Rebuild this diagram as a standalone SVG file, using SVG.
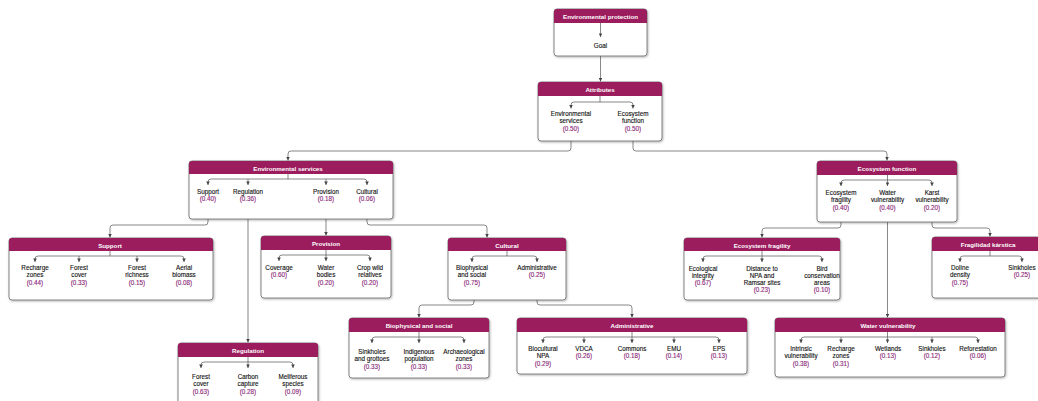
<svg xmlns="http://www.w3.org/2000/svg" width="1038" height="401" viewBox="0 0 1038 401">
<defs>
<marker id="ah" viewBox="0 0 6 6" refX="6" refY="3" markerWidth="3.6" markerHeight="3.6" markerUnits="userSpaceOnUse" orient="auto"><path d="M0,0 L6,3 L0,6 z" fill="#444"/></marker>
<filter id="sh" x="-5%" y="-5%" width="110%" height="115%"><feDropShadow dx="0.8" dy="1" stdDeviation="0.8" flood-color="#000" flood-opacity="0.3"/></filter>
</defs>
<style>
.box{fill:#fff;stroke:#666;stroke-width:0.8;filter:url(#sh)}
.hdr{fill:#9b1d5e}
.tt{font-family:"Liberation Sans",Arial,sans-serif;font-size:6.2px;font-weight:bold;fill:#fff;text-anchor:middle}
.t{font-family:"Liberation Sans",Arial,sans-serif;font-size:6.3px;fill:#111;stroke:#111;stroke-width:0.12;text-anchor:middle}
.v{font-family:"Liberation Sans",Arial,sans-serif;font-size:6.3px;fill:#8a1f78;stroke:#8a1f78;stroke-width:0.12;text-anchor:middle}
.ln{fill:none;stroke:#555;stroke-width:0.7}
.ar{fill:none;stroke:#555;stroke-width:0.7;marker-end:url(#ah)}
</style>
<rect width="1038" height="401" fill="#fff"/>

<g id="connectors">
<path class="ar" d="M600.5,56 V81.5"/>
<path class="ar" d="M571,134 V148 Q571,151 568,151 H291 Q288,151 288,154 V160.5"/>
<path class="ar" d="M633,134 V148 Q633,151 636,151 H884 Q887,151 887,154 V160.5"/>
<path class="ar" d="M208,204 V222 Q208,225 205,225 H113 Q110,225 110,228 V237.5"/>
<path class="ar" d="M248,204 V342.5"/>
<path class="ar" d="M326,204 V235.5"/>
<path class="ar" d="M367,204 V222 Q367,225 370,225 H484 Q487,225 487,228 V237.5"/>
<path class="ar" d="M474,288 V302 Q474,305 471,305 H422 Q419,305 419,308 V317.5"/>
<path class="ar" d="M537,281 V302 Q537,305 540,305 H629 Q632,305 632,308 V317.5"/>
<path class="ar" d="M841,212 V225 Q841,228 838,228 H765 Q762,228 762,231 V237.5"/>
<path class="ar" d="M887.5,212 V317.5"/>
<path class="ar" d="M932,212 V225 Q932,228 935,228 H987 Q990,228 990,231 V236.5"/>
</g>

<g id="n-goal">
<rect class="box" x="554" y="9" width="93" height="47" rx="3"/>
<path class="hdr" d="M554,23 V12 Q554,9 557,9 H644 Q647,9 647,12 V23 Z"/>
<text class="tt" x="600.5" y="18.7">Environmental protection</text>
<path class="ar" d="M600.5,23 V37"/>
<text class="t" x="600.5" y="48">Goal</text>
</g>

<g id="n-attributes">
<rect class="box" x="538" y="82" width="124" height="59" rx="3"/>
<path class="hdr" d="M538,96 V85 Q538,82 541,82 H659 Q662,82 662,85 V96 Z"/>
<text class="tt" x="600" y="91.7">Attributes</text>
<path class="ln" d="M600,96 V102 M574,102 H630"/>
<path class="ar" d="M574,102 Q571,102 571,105 V108.5"/>
<path class="ar" d="M630,102 Q633,102 633,105 V108.5"/>
<text class="t" x="571" y="116">Environmental</text>
<text class="t" x="571" y="123.3">services</text>
<text class="v" x="571" y="130.6">(0.50)</text>
<text class="t" x="633" y="116">Ecosystem</text>
<text class="t" x="633" y="123.3">function</text>
<text class="v" x="633" y="130.6">(0.50)</text>
</g>

<g id="n-envservices">
<rect class="box" x="189" y="161" width="204" height="58" rx="3"/>
<path class="hdr" d="M189,174 V164 Q189,161 192,161 H390 Q393,161 393,164 V174 Z"/>
<text class="tt" x="288" y="170.5">Environmental services</text>
<path class="ln" d="M288,174 V179 M211,179 H364"/>
<path class="ar" d="M211,179 Q208,179 208,182 V185"/>
<path class="ar" d="M364,179 Q367,179 367,182 V185"/>
<path class="ar" d="M248,179 V185"/>
<path class="ar" d="M326,179 V185"/>
<text class="t" x="208" y="194">Support</text><text class="v" x="208" y="201.3">(0.40)</text>
<text class="t" x="248" y="194">Regulation</text><text class="v" x="248" y="201.3">(0.36)</text>
<text class="t" x="326" y="194">Provision</text><text class="v" x="326" y="201.3">(0.18)</text>
<text class="t" x="367" y="194">Cultural</text><text class="v" x="367" y="201.3">(0.06)</text>
</g>

<g id="n-support">
<rect class="box" x="9" y="238" width="204" height="62" rx="3"/>
<path class="hdr" d="M9,251 V241 Q9,238 12,238 H210 Q213,238 213,241 V251 Z"/>
<text class="tt" x="110" y="247.5">Support</text>
<path class="ln" d="M110,251 V256 M38,256 H181"/>
<path class="ar" d="M38,256 Q35,256 35,259 V262"/>
<path class="ar" d="M181,256 Q184,256 184,259 V262"/>
<path class="ar" d="M79,256 V262"/>
<path class="ar" d="M137,256 V262"/>
<text class="t" x="35" y="270">Recharge</text><text class="t" x="35" y="277.3">zones</text><text class="v" x="35" y="284.6">(0.44)</text>
<text class="t" x="79" y="270">Forest</text><text class="t" x="79" y="277.3">cover</text><text class="v" x="79" y="284.6">(0.33)</text>
<text class="t" x="137" y="270">Forest</text><text class="t" x="137" y="277.3">richness</text><text class="v" x="137" y="284.6">(0.15)</text>
<text class="t" x="184" y="270">Aerial</text><text class="t" x="184" y="277.3">biomass</text><text class="v" x="184" y="284.6">(0.08)</text>
</g>

<g id="n-regulation">
<rect class="box" x="178" y="343" width="140" height="70" rx="3"/>
<path class="hdr" d="M178,357 V346 Q178,343 181,343 H315 Q318,343 318,346 V357 Z"/>
<text class="tt" x="248" y="352.5">Regulation</text>
<path class="ln" d="M204,362 H290"/>
<path class="ar" d="M248,357 V368"/>
<path class="ar" d="M204,362 Q201,362 201,365 V368"/>
<path class="ar" d="M290,362 Q293,362 293,365 V368"/>
<text class="t" x="201" y="379">Forest</text><text class="t" x="201" y="386.3">cover</text><text class="v" x="201" y="393.6">(0.63)</text>
<text class="t" x="248" y="379">Carbon</text><text class="t" x="248" y="386.3">capture</text><text class="v" x="248" y="393.6">(0.28)</text>
<text class="t" x="293" y="379">Meliferous</text><text class="t" x="293" y="386.3">species</text><text class="v" x="293" y="393.6">(0.09)</text>
</g>

<g id="n-provision">
<rect class="box" x="261" y="236" width="130" height="62" rx="3"/>
<path class="hdr" d="M261,250 V239 Q261,236 264,236 H388 Q391,236 391,239 V250 Z"/>
<text class="tt" x="326" y="245.7">Provision</text>
<path class="ln" d="M282,255 H367"/>
<path class="ar" d="M326,250 V261"/>
<path class="ar" d="M282,255 Q279,255 279,258 V261"/>
<path class="ar" d="M367,255 Q370,255 370,258 V261"/>
<text class="t" x="279" y="270">Coverage</text><text class="v" x="279" y="277.3">(0.60)</text>
<text class="t" x="326" y="270">Water</text><text class="t" x="326" y="277.3">bodies</text><text class="v" x="326" y="284.6">(0.20)</text>
<text class="t" x="370" y="270">Crop wild</text><text class="t" x="370" y="277.3">relatives</text><text class="v" x="370" y="284.6">(0.20)</text>
</g>

<g id="n-cultural">
<rect class="box" x="448" y="238" width="118" height="62" rx="3"/>
<path class="hdr" d="M448,251 V241 Q448,238 451,238 H563 Q566,238 566,241 V251 Z"/>
<text class="tt" x="507" y="247.5">Cultural</text>
<path class="ln" d="M507,251 V256 M475,256 H534"/>
<path class="ar" d="M475,256 Q472,256 472,259 V262"/>
<path class="ar" d="M534,256 Q537,256 537,259 V262"/>
<text class="t" x="472" y="270">Biophysical</text><text class="t" x="472" y="277.3">and social</text><text class="v" x="472" y="284.6">(0.75)</text>
<text class="t" x="537" y="270">Administrative</text><text class="v" x="537" y="277.3">(0.25)</text>
</g>

<g id="n-biosocial">
<rect class="box" x="349" y="318" width="140" height="60" rx="3"/>
<path class="hdr" d="M349,332 V321 Q349,318 352,318 H486 Q489,318 489,321 V332 Z"/>
<text class="tt" x="419" y="327.5">Biophysical and social</text>
<path class="ln" d="M375,337 H461"/>
<path class="ar" d="M419,332 V343"/>
<path class="ar" d="M375,337 Q372,337 372,340 V343"/>
<path class="ar" d="M461,337 Q464,337 464,340 V343"/>
<text class="t" x="372" y="354">Sinkholes</text><text class="t" x="372" y="361.3">and grottoes</text><text class="v" x="372" y="368.6">(0.33)</text>
<text class="t" x="419" y="354">Indigenous</text><text class="t" x="419" y="361.3">population</text><text class="v" x="419" y="368.6">(0.33)</text>
<text class="t" x="464" y="354">Archaeological</text><text class="t" x="464" y="361.3">zones</text><text class="v" x="464" y="368.6">(0.33)</text>
</g>

<g id="n-administrative">
<rect class="box" x="517" y="318" width="230" height="56" rx="3"/>
<path class="hdr" d="M517,332 V321 Q517,318 520,318 H744 Q747,318 747,321 V332 Z"/>
<text class="tt" x="632" y="327.5">Administrative</text>
<path class="ln" d="M546,337 H716"/>
<path class="ar" d="M632,332 V343"/>
<path class="ar" d="M546,337 Q543,337 543,340 V343"/>
<path class="ar" d="M716,337 Q719,337 719,340 V343"/>
<path class="ar" d="M584,337 V343"/>
<path class="ar" d="M674,337 V343"/>
<text class="t" x="543" y="351">Biocultural</text><text class="t" x="543" y="358.3">NPA</text><text class="v" x="543" y="365.6">(0.29)</text>
<text class="t" x="584" y="351">VDCA</text><text class="v" x="584" y="358.3">(0.26)</text>
<text class="t" x="632" y="351">Commons</text><text class="v" x="632" y="358.3">(0.18)</text>
<text class="t" x="674" y="351">EMU</text><text class="v" x="674" y="358.3">(0.14)</text>
<text class="t" x="719" y="351">EPS</text><text class="v" x="719" y="358.3">(0.13)</text>
</g>

<g id="n-ecofunction">
<rect class="box" x="817" y="161" width="140" height="61" rx="3"/>
<path class="hdr" d="M817,175 V164 Q817,161 820,161 H954 Q957,161 957,164 V175 Z"/>
<text class="tt" x="887" y="170.5">Ecosystem function</text>
<path class="ln" d="M844,180 H929"/>
<path class="ar" d="M887.5,175 V186"/>
<path class="ar" d="M844,180 Q841,180 841,183 V186"/>
<path class="ar" d="M929,180 Q932,180 932,183 V186"/>
<text class="t" x="841" y="195">Ecosystem</text><text class="t" x="841" y="202.3">fragility</text><text class="v" x="841" y="209.6">(0.40)</text>
<text class="t" x="887.5" y="195">Water</text><text class="t" x="887.5" y="202.3">vulnerability</text><text class="v" x="887.5" y="209.6">(0.40)</text>
<text class="t" x="932" y="195">Karst</text><text class="t" x="932" y="202.3">vulnerability</text><text class="v" x="932" y="209.6">(0.20)</text>
</g>

<g id="n-ecofragility">
<rect class="box" x="684" y="238" width="156" height="62" rx="3"/>
<path class="hdr" d="M684,251 V241 Q684,238 687,238 H837 Q840,238 840,241 V251 Z"/>
<text class="tt" x="762" y="247.5">Ecosystem fragility</text>
<path class="ln" d="M706,256 H819"/>
<path class="ar" d="M762,251 V262"/>
<path class="ar" d="M706,256 Q703,256 703,259 V262"/>
<path class="ar" d="M819,256 Q822,256 822,259 V262"/>
<text class="t" x="703" y="270.5">Ecological</text><text class="t" x="703" y="277.8">integrity</text><text class="v" x="703" y="285.1">(0.67)</text>
<text class="t" x="762" y="270.5">Distance to</text><text class="t" x="762" y="277.8">NPA and</text><text class="t" x="762" y="285.1">Ramsar sites</text><text class="v" x="762" y="292.4">(0.23)</text>
<text class="t" x="822" y="270.5">Bird</text><text class="t" x="822" y="277.8">conservation</text><text class="t" x="822" y="285.1">areas</text><text class="v" x="822" y="292.4">(0.10)</text>
</g>

<g id="n-karst">
<rect class="box" x="932" y="237" width="112" height="61" rx="3"/>
<path class="hdr" d="M932,251 V240 Q932,237 935,237 H1041 Q1044,237 1044,240 V251 Z"/>
<text class="tt" x="988" y="246.5">Fragilidad kárstica</text>
<path class="ln" d="M990,251 V256 M963,256 H1019"/>
<path class="ar" d="M963,256 Q960,256 960,259 V262"/>
<path class="ar" d="M1019,256 Q1022,256 1022,259 V262"/>
<text class="t" x="960" y="270">Doline</text><text class="t" x="960" y="277.3">density</text><text class="v" x="960" y="284.6">(0.75)</text>
<text class="t" x="1022" y="270">Sinkholes</text><text class="v" x="1022" y="277.3">(0.25)</text>
</g>

<g id="n-watervuln">
<rect class="box" x="775" y="318" width="230" height="59" rx="3"/>
<path class="hdr" d="M775,332 V321 Q775,318 778,318 H1002 Q1005,318 1005,321 V332 Z"/>
<text class="tt" x="888" y="327.5">Water vulnerability</text>
<path class="ln" d="M804,337 H975"/>
<path class="ar" d="M887.5,332 V343"/>
<path class="ar" d="M804,337 Q801,337 801,340 V343"/>
<path class="ar" d="M975,337 Q978,337 978,340 V343"/>
<path class="ar" d="M841,337 V343"/>
<path class="ar" d="M932,337 V343"/>
<text class="t" x="801" y="351">Intrinsic</text><text class="t" x="801" y="358.3">vulnerability</text><text class="v" x="801" y="365.6">(0.38)</text>
<text class="t" x="841" y="351">Recharge</text><text class="t" x="841" y="358.3">zones</text><text class="v" x="841" y="365.6">(0.31)</text>
<text class="t" x="888" y="351">Wetlands</text><text class="v" x="888" y="358.3">(0.13)</text>
<text class="t" x="932" y="351">Sinkholes</text><text class="v" x="932" y="358.3">(0.12)</text>
<text class="t" x="978" y="351">Reforestation</text><text class="v" x="978" y="358.3">(0.06)</text>
</g>
</svg>
